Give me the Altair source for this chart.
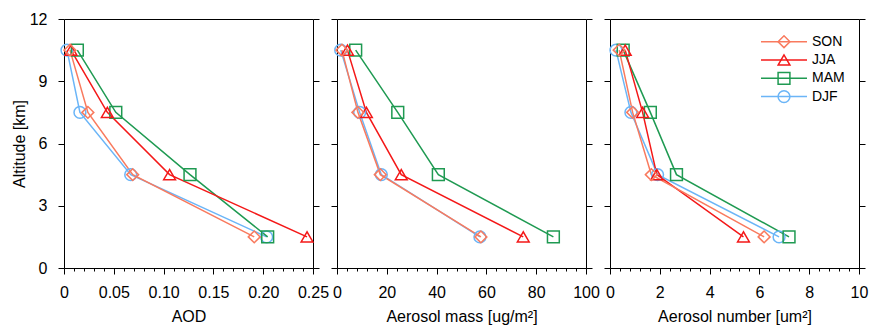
import altair as alt
import pandas as pd

# ---------------- data ----------------
altitude = [1.5, 4.5, 7.5, 10.5]
seasons = ["SON", "JJA", "MAM", "DJF"]          # legend order
draw_order = ["DJF", "MAM", "JJA", "SON"]       # drawing order (SON on top)
colors = ["#F97A5E", "#F41818", "#1F9A52", "#6BB5F7"]
shapes = ["diamond", "triangle-up", "square", "circle"]

aod_SON = [0.191, 0.069, 0.024, 0.006]
aod_JJA = [0.244, 0.106, 0.0435, 0.007]
aod_MAM = [0.2045, 0.1265, 0.052, 0.0134]
aod_DJF = [0.2035, 0.067, 0.016, 0.003]

mass_SON = [57.8, 17.4, 8.4, 2.0]
mass_JJA = [74.8, 25.8, 11.8, 4.2]
mass_MAM = [86.9, 40.7, 24.4, 7.5]
mass_DJF = [57.4, 17.8, 9.1, 1.5]

num_SON = [6.19, 1.66, 0.91, 0.37]
num_JJA = [5.36, 1.88, 1.31, 0.61]
num_MAM = [7.19, 2.67, 1.62, 0.53]
num_DJF = [6.79, 1.91, 0.84, 0.24]

y_ticks = [0, 3, 6, 9, 12]
aod_ticks = [0, 0.05, 0.10, 0.15, 0.20, 0.25]
mass_ticks = [0, 20, 40, 60, 80, 100]
num_ticks = [0, 2, 4, 6, 8, 10]

aod = {"SON": aod_SON, "JJA": aod_JJA, "MAM": aod_MAM, "DJF": aod_DJF}
mass = {"SON": mass_SON, "JJA": mass_JJA, "MAM": mass_MAM, "DJF": mass_DJF}
num = {"SON": num_SON, "JJA": num_JJA, "MAM": num_MAM, "DJF": num_DJF}

rows = []
for s in draw_order:
    for i, a in enumerate(altitude):
        rows.append({"season": s, "alt": a, "aod": aod[s][i],
                     "mass": mass[s][i], "num": num[s][i]})
df = pd.DataFrame(rows)

FONT = "Liberation Sans"
W = 249
H = 249


def minor_values(ticks):
    step = (ticks[1] - ticks[0]) / 5.0
    out = []
    for k in range(len(ticks) - 1):
        for j in range(1, 5):
            out.append(round(ticks[k] + j * step, 6))
    return out


def panel(field, title, ticks, label_expr, first, legend):
    xscale = alt.Scale(domain=[ticks[0], ticks[-1]], nice=False, zero=False)
    yscale = alt.Scale(domain=[0, 12], nice=False)
    major_x = alt.Axis(orient="bottom", values=ticks, title=title, tickSize=6,
                       labelExpr=label_expr, labelFlush=False, labelOverlap=False,
                       domain=False, grid=False, labelPadding=10, titlePadding=8)
    minor_x = alt.Axis(orient="bottom", values=minor_values(ticks), title=None,
                       labels=False, tickSize=3, domain=False, grid=False)
    if first:
        left_y = alt.Axis(orient="left", values=y_ticks, title="Altitude [km]",
                          tickSize=6, domain=False, grid=False, labelPadding=11,
                          titlePadding=2, labelFlush=False)
    else:
        left_y = alt.Axis(orient="left", values=y_ticks, title=None, labels=False,
                          tickSize=6, domain=False, grid=False)
    right_y = alt.Axis(orient="right", values=y_ticks, title=None, labels=False,
                       tickSize=6, domain=False, grid=False)

    cscale = alt.Scale(domain=seasons, range=colors)
    sscale = alt.Scale(domain=seasons, range=shapes)

    if legend:
        line_leg = alt.Legend(orient="none", legendX=150, legendY=14.7, title=None,
                              symbolType="stroke", symbolSize=2116,
                              symbolStrokeWidth=1.5, clipHeight=16, rowPadding=2.3,
                              labelFontSize=14, labelOffset=4, padding=0,
                              labelColor="black")
        pt_leg = alt.Legend(orient="none", legendX=167, legendY=14.7, title=None,
                            symbolSize=140, symbolStrokeWidth=1.5, clipHeight=16,
                            rowPadding=2.3, labelFontSize=14, labelExpr="''",
                            padding=0)
        lcol = alt.Color("season:N", scale=cscale, legend=line_leg)
        pcol = alt.Color("season:N", scale=cscale, legend=pt_leg)
        pshape = alt.Shape("season:N", scale=sscale, legend=pt_leg)
    else:
        lcol = alt.Color("season:N", scale=cscale, legend=None)
        pcol = alt.Color("season:N", scale=cscale, legend=None)
        pshape = alt.Shape("season:N", scale=sscale, legend=None)

    base = alt.Chart(df)
    lines = base.mark_line(strokeWidth=1.5).encode(
        x=alt.X(field, type="quantitative", scale=xscale, axis=major_x),
        y=alt.Y("alt:Q", scale=yscale, axis=left_y),
        color=lcol,
        order=alt.Order("alt:Q"),
    )
    points = base.mark_point(filled=False, size=140, strokeWidth=1.5, opacity=1).encode(
        x=alt.X(field, type="quantitative", scale=xscale, axis=minor_x),
        y=alt.Y("alt:Q", scale=yscale, axis=right_y),
        color=pcol,
        shape=pshape,
    )
    return (
        alt.layer(lines, points)
        .resolve_axis(x="independent", y="independent")
        .resolve_scale(color="independent", shape="independent")
        .properties(width=W, height=H)
    )


p1 = panel("aod", "AOD", aod_ticks,
           "datum.value == 0 ? '0' : format(datum.value, '.2f')", True, False)
p2 = panel("mass", "Aerosol mass [ug/m²]", mass_ticks,
           "format(datum.value, 'd')", False, False)
p3 = panel("num", "Aerosol number [um²]", num_ticks,
           "format(datum.value, 'd')", False, True)

chart = (
    alt.hconcat(p1, p2, p3, spacing=24, bounds="flush")
    .resolve_scale(color="independent", shape="independent")
    .properties(padding={"left": 10, "top": 10, "right": 0, "bottom": 0},
                background="white")
    .configure_view(stroke="black", strokeWidth=1)
    .configure_axis(labelFont=FONT, titleFont=FONT, labelFontSize=16,
                    titleFontSize=16, labelColor="black", titleColor="black",
                    tickColor="black", tickWidth=1, titleFontWeight="normal")
    .configure_legend(labelFont=FONT)
)

chart.save("out.html", embed_options={"renderer": "svg", "actions": False})
